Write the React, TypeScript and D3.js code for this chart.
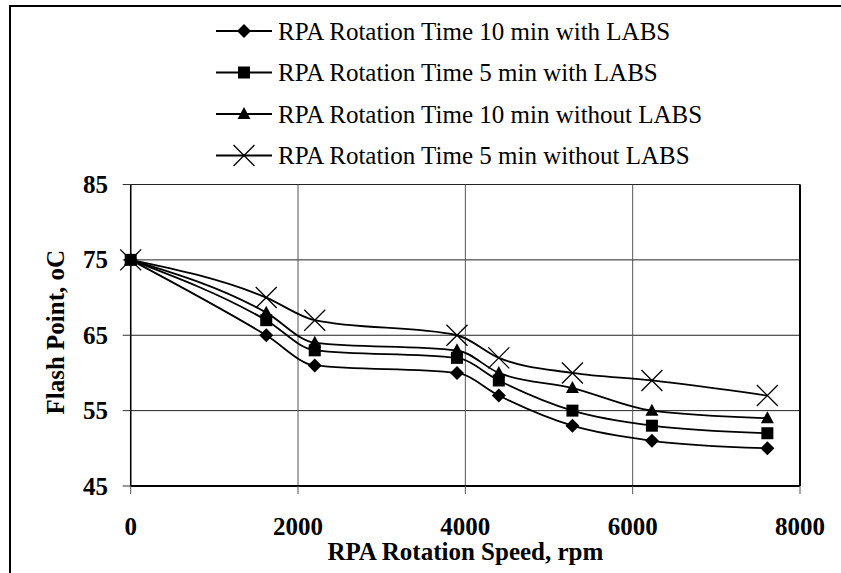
import React from "react";
import * as d3 from "d3";

const speeds = [0, 1620, 2200, 3900, 4400, 5280, 6230, 7610];
const seriesNames = [
  "RPA Rotation Time 10 min with LABS",
  "RPA Rotation Time 5 min with LABS",
  "RPA Rotation Time 10 min without LABS",
  "RPA Rotation Time 5 min without LABS",
];
const time10WithLabs = [75, 65, 61, 60, 57, 53, 51, 50];
const time5WithLabs = [75, 67, 63, 62, 59, 55, 53, 52];
const time10WithoutLabs = [75, 68, 64, 63, 60, 58, 55, 54];
const time5WithoutLabs = [75, 70, 67, 65, 62, 60, 59, 57];
const markerKinds = ["diamond", "square", "triangle", "cross"];
const xTicks = [0, 2000, 4000, 6000, 8000];
const yTicks = [45, 55, 65, 75, 85];

const W = 841;
const H = 573;
const FONT = '"Liberation Serif", "DejaVu Serif", serif';
const txt: React.CSSProperties = { fontFamily: FONT };

function Marker({ kind, x, y }: { kind: string; x: number; y: number }) {
  if (kind === "diamond") {
    const s = 7;
    return <path d={`M${x},${y - s}L${x + s},${y}L${x},${y + s}L${x - s},${y}Z`} fill="#000" />;
  }
  if (kind === "square") {
    const s = 6;
    return <rect x={x - s} y={y - s} width={2 * s} height={2 * s} fill="#000" />;
  }
  if (kind === "triangle") {
    return <path d={`M${x},${y - 7}L${x + 6.5},${y + 5}L${x - 6.5},${y + 5}Z`} fill="#000" />;
  }
  const s = 10.5;
  return (
    <path
      d={`M${x - s},${y - s}L${x + s},${y + s}M${x - s},${y + s}L${x + s},${y - s}`}
      stroke="#000"
      strokeWidth={1.3}
      fill="none"
    />
  );
}

export default function App() {
  const x = d3.scaleLinear().domain([0, 8000]).range([130.7, 800]);
  const y = d3.scaleLinear().domain([45, 85]).range([486, 184.5]);
  const series = [time10WithLabs, time5WithLabs, time10WithoutLabs, time5WithoutLabs];
  const line = d3
    .line<number>()
    .x((_, i) => x(speeds[i]))
    .y((v) => y(v))
    .curve(d3.curveMonotoneX);

  const legendY = [31, 72.5, 114, 155.5];

  return (
    <svg
      width={W}
      height={H}
      style={{ position: "absolute", left: 0, top: 0, background: "#fff", fontFamily: FONT }}
    >
      <rect x={0} y={0} width={W} height={H} fill="#fff" />
      <rect x={10} y={6} width={900} height={700} fill="none" stroke="#000" strokeWidth={2} />

      {seriesNames.map((name, i) => (
        <g key={name}>
          <line x1={216} x2={272} y1={legendY[i]} y2={legendY[i]} stroke="#000" strokeWidth={1.8} />
          <Marker kind={markerKinds[i]} x={244} y={legendY[i]} />
          <text x={278} y={legendY[i] + 8.5} fontSize={25} fill="#000" style={txt}>
            {name}
          </text>
        </g>
      ))}

      {yTicks.map((t) => (
        <line key={"gy" + t} x1={x(0)} x2={x(8000)} y1={y(t)} y2={y(t)} stroke="#222" strokeWidth={1} />
      ))}
      {xTicks.map((t) => (
        <line key={"gx" + t} x1={x(t)} x2={x(t)} y1={y(85)} y2={y(45)} stroke="#555" strokeWidth={1} />
      ))}
      <line x1={x(8000)} x2={x(8000)} y1={y(85)} y2={y(45)} stroke="#000" strokeWidth={2} />
      <line x1={x(0)} x2={x(0)} y1={y(85)} y2={y(45)} stroke="#000" strokeWidth={1.5} />
      <line x1={x(0)} x2={x(8000)} y1={y(45)} y2={y(45)} stroke="#000" strokeWidth={2} />

      {yTicks.map((t) => (
        <g key={"ty" + t}>
          <line x1={x(0) - 8} x2={x(0)} y1={y(t)} y2={y(t)} stroke="#333" strokeWidth={1} />
          <text x={108} y={y(t) + 8.5} fontSize={25} fontWeight="bold" textAnchor="end" style={txt}>
            {t}
          </text>
        </g>
      ))}
      {xTicks.map((t) => (
        <g key={"tx" + t}>
          <line x1={x(t)} x2={x(t)} y1={y(45)} y2={y(45) + 8} stroke="#555" strokeWidth={1} />
          <text x={x(t)} y={535} fontSize={25} fontWeight="bold" textAnchor="middle" style={txt}>
            {t}
          </text>
        </g>
      ))}

      <text x={(x(0) + x(8000)) / 2} y={560} fontSize={25} fontWeight="bold" textAnchor="middle" style={txt}>
        RPA Rotation Speed, rpm
      </text>
      <text
        transform={`translate(64,${(y(45) + y(85)) / 2 - 3}) rotate(-90)`}
        fontSize={25}
        fontWeight="bold"
        textAnchor="middle"
        style={txt}
      >
        Flash Point, oC
      </text>

      {series.map((vals, si) => (
        <g key={"s" + si}>
          <path d={line(vals) || ""} fill="none" stroke="#000" strokeWidth={1.8} />
          {vals.map((v, i) => (
            <Marker key={i} kind={markerKinds[si]} x={x(speeds[i])} y={y(v)} />
          ))}
        </g>
      ))}
    </svg>
  );
}
